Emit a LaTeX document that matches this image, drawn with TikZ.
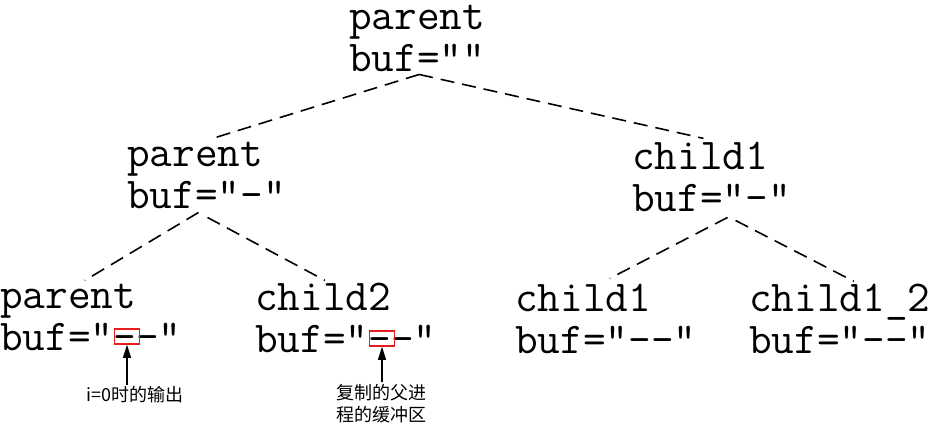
\documentclass[tikz,border=0pt]{standalone}
\usepackage{fontspec}
\newfontfamily\cjk{Noto Sans CJK SC}
\usetikzlibrary{arrows.meta}
\definecolor{boxred}{RGB}{230,30,30}
\tikzset{
  treenode/.style={anchor=base west, inner sep=0pt, align=left,
    font=\fontsize{44}{42}\selectfont\ttfamily},
  link/.style={line width=1.6pt, dash pattern=on 14pt off 8pt},
  redbox/.style={draw=boxred, line width=1.5pt, inner sep=0pt, minimum width=25pt, minimum height=15pt},
  note/.style={inner sep=0pt, align=center, font=\fontsize{18}{22}\selectfont\cjk},
  pointer/.style={line width=1.1pt, -{Triangle[length=13pt,width=8pt]}}
}
\begin{document}
\begin{tikzpicture}[x=1pt,y=-1pt]
\useasboundingbox (0,0) rectangle (936,429);
% tree nodes (anchor = baseline of the last line)
\node[treenode] (root) at (349,71) {parent\\buf=""};
\node[treenode] (l) at (127,208) {parent\\buf="-"};
\node[treenode] (r) at (632,211) {child1\\buf="-"};
\node[treenode] (ll) at (0,350) {parent\\buf="-{}-"};
\node[treenode] (lr) at (255,352) {child2\\buf="-{}-"};
\node[treenode] (rl) at (515,353) {child1\\buf="-{}-"};
\node[treenode] (rr) at (749,353) {child1\_2\\buf="-{}-"};
% connectors
\draw[link] ([shift={(2,3)}]root.south) -- ([shift={(6,-3)}]l.north);
\draw[link] ([shift={(2,3)}]root.south) -- ([shift={(-8,-3)}]r.north);
\draw[link] ([shift={(-8,4)}]l.south) -- ([shift={(-6,-3)}]ll.north);
\draw[link] ([shift={(1,9)}]l.south) -- ([shift={(-21,-2)}]lr.north);
\draw[link] ([shift={(16,6)}]r.south) -- ([shift={(4,-5)}]rl.north);
\draw[link] ([shift={(24,9)}]r.south) -- ([shift={(14,-2)}]rr.north);
% highlight boxes
\node[redbox] (b1) at (127,336.5) {};
\node[redbox] (b2) at (382,338.5) {};
% notes
\node[note] (n1) at (135,395) {i=0时的输出};
\node[note] (n2) at (381,404) {复制的父进\\程的缓冲区};
\draw[pointer] (n1.north -| b1.south) ++(0,-2) -- (b1.south);
\draw[pointer] ([yshift=2pt]n2.north -| b2.south) -- (b2.south);
\end{tikzpicture}
\end{document}
